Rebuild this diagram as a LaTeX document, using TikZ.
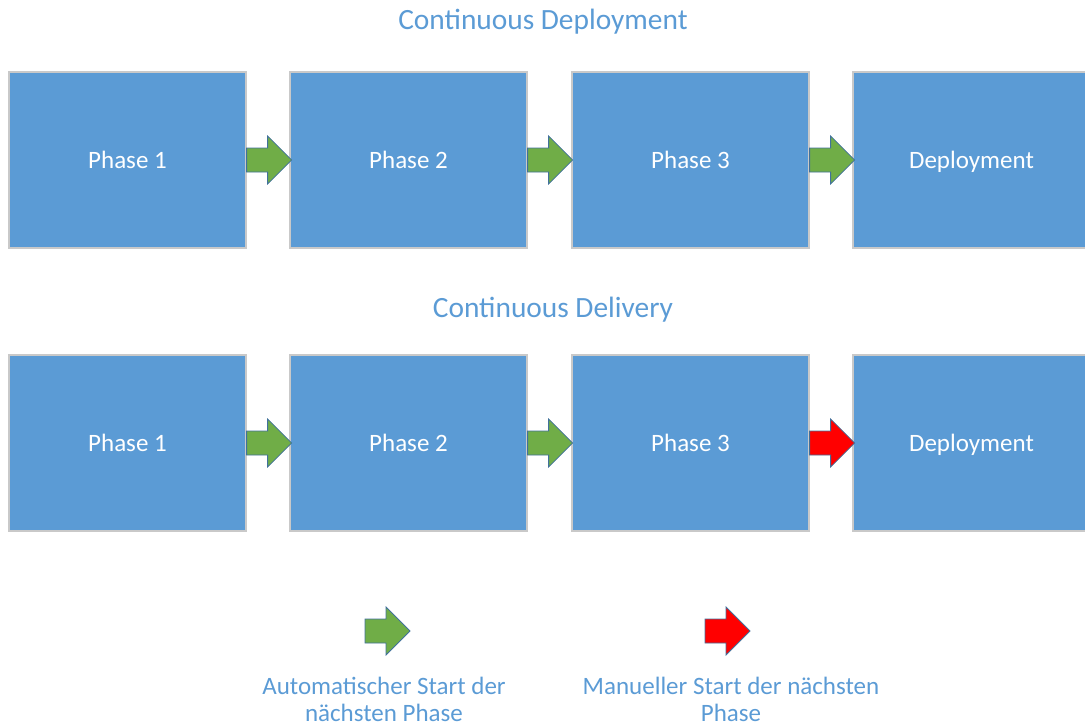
\documentclass[tikz,border=0pt]{standalone}
\usepackage{fontspec}
\setmainfont{Carlito}
\usetikzlibrary{calc}
\definecolor{boxblue}{HTML}{5B9BD5}
\definecolor{boxedge}{HTML}{C9C9C9}
\definecolor{arrowedge}{HTML}{41719C}
\definecolor{autogreen}{HTML}{70AD47}
\definecolor{manualred}{HTML}{FF0000}
\tikzset{
  phasebox/.style={draw=boxedge, line width=1.2pt, fill=boxblue, minimum width=237pt,
    minimum height=176pt, inner sep=0pt, text=white, text height=16.2pt, text depth=0pt,
    font=\fontsize{25}{28}\selectfont},
  heading/.style={text=boxblue, text height=18.6pt, text depth=0pt,
    font=\fontsize{29.4}{33}\selectfont},
  legendtext/.style={text=boxblue, align=center, font=\fontsize{25}{27}\selectfont},
  arrowline/.style={draw=arrowedge, line width=0.8pt, line join=miter},
  pics/flowarrow/.style={code={
    \path[arrowline, fill=#1] (0,-12) -- (21,-12) -- (21,-24) -- (45,0)
      -- (21,24) -- (21,12) -- (0,12) -- cycle;}}
}
\begin{document}
\begin{tikzpicture}[x=1pt, y=-1pt]
\useasboundingbox (0,0) rectangle (1085,726);
\clip (0,0) rectangle (1085,726);

% Continuous Deployment: every step starts automatically
\node[heading] (t1) at (543,20) {Continuous Deployment};
\node[phasebox] (a1) at (127.5,160) {Phase 1};
\node[phasebox] (a2) at (408.5,160) {Phase 2};
\node[phasebox] (a3) at (690.5,160) {Phase 3};
\node[phasebox] (a4) at (971.5,160) {Deployment};
\pic at (a1.east) {flowarrow=autogreen};
\pic at (a2.east) {flowarrow=autogreen};
\pic at (a3.east) {flowarrow=autogreen};

% Continuous Delivery: the deployment is triggered by hand
\node[heading] (t2) at (553,308) {Continuous Delivery};
\node[phasebox] (b1) at (127.5,443) {Phase 1};
\node[phasebox] (b2) at (408.5,443) {Phase 2};
\node[phasebox] (b3) at (690.5,443) {Phase 3};
\node[phasebox] (b4) at (971.5,443) {Deployment};
\pic at (b1.east) {flowarrow=autogreen};
\pic at (b2.east) {flowarrow=autogreen};
\pic at (b3.east) {flowarrow=manualred};

% Legend
\coordinate (lg) at (365,631);
\coordinate (lr) at (705,631);
\pic at (lg) {flowarrow=autogreen};
\pic at (lr) {flowarrow=manualred};
\node[legendtext] (lgt) at (384,699) {Automatischer Start der\\nächsten Phase};
\node[legendtext] (lrt) at (731,699) {Manueller Start der nächsten\\Phase};
\end{tikzpicture}
\end{document}
